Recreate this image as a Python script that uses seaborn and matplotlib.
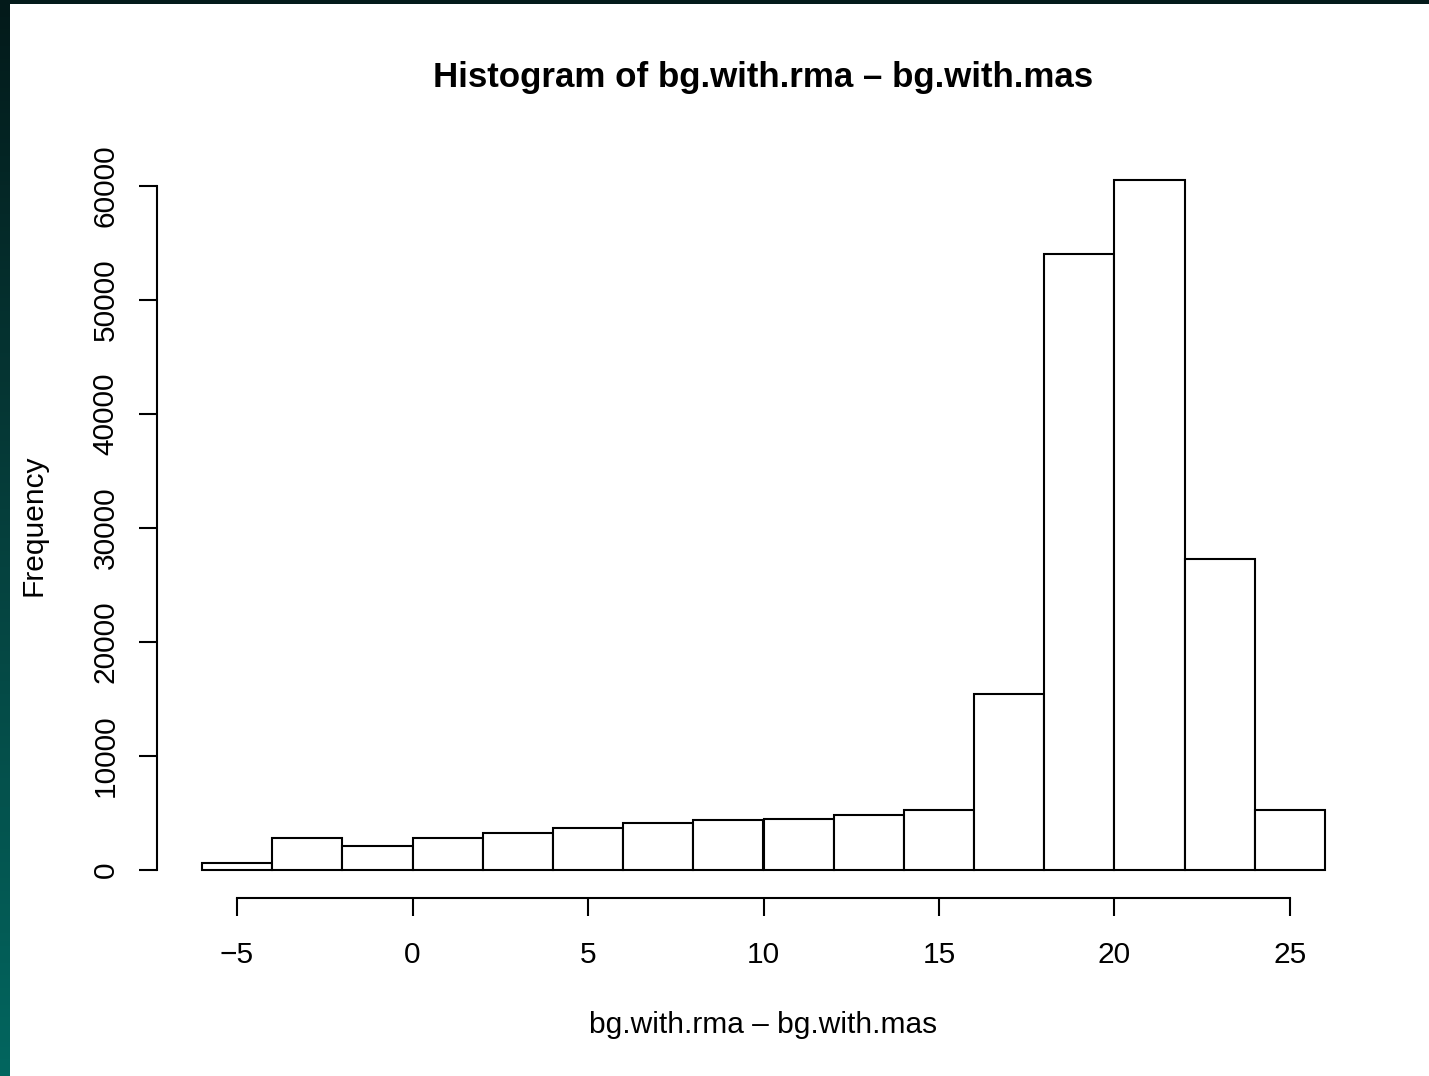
import numpy as np
import matplotlib
matplotlib.use("Agg")
import matplotlib.pyplot as plt
import seaborn as sns
from matplotlib.colors import LinearSegmentedColormap

# Data
bin_edges = [-6, -4, -2, 0, 2, 4, 6, 8, 10, 12, 14, 16, 18, 20, 22, 24, 26]
counts = [600, 2800, 2100, 2780, 3240, 3670, 4140, 4400, 4520, 4870,
          5310, 15460, 54070, 60520, 27320, 5310]
x_ticks = [-5, 0, 5, 10, 15, 20, 25]
y_ticks = [0, 10000, 20000, 30000, 40000, 50000, 60000]

title = "Histogram of bg.with.rma \u2013 bg.with.mas"
x_label = "bg.with.rma \u2013 bg.with.mas"
y_label = "Frequency"

sns.set_style("ticks")
plt.rcParams['font.family'] = ['Liberation Sans', 'DejaVu Sans']
plt.rcParams['text.color'] = "black"

W, H = 1429, 1076
fig = plt.figure(figsize=(W / 100, H / 100), dpi=100)
fig.patch.set_facecolor("white")

# dark frame on the top and left edges
frame = LinearSegmentedColormap.from_list("frame", ["#031a1a", "#06403d", "#02665f"])
left = fig.add_axes([0, 0, 10 / W, 1], zorder=-1)
left.imshow(np.linspace(0, 1, 256).reshape(-1, 1), aspect="auto", cmap=frame)
left.set_axis_off()
top = fig.add_axes([0, 1 - 4 / H, 1, 4 / H], zorder=-1)
top.set_axis_off()
top.add_patch(plt.Rectangle((0, 0), 1, 1, color="#031a1a", transform=top.transAxes))

# plot region in pixels
px_l, px_r, px_t, px_b = 157, 1370, 152.5, 897.7
ax = fig.add_axes([px_l / W, 1 - px_b / H, (px_r - px_l) / W, (px_b - px_t) / H])

centers = [(a + b) / 2 for a, b in zip(bin_edges[:-1], bin_edges[1:])]
sns.histplot(x=centers, weights=counts, bins=bin_edges, ax=ax,
             color="white", edgecolor="black", linewidth=1.5, alpha=1)

xr = bin_edges[-1] - bin_edges[0]
ax.set_xlim(bin_edges[0] - 0.04 * xr, bin_edges[-1] + 0.04 * xr)
ymax = max(counts)
ax.set_ylim(-0.04 * ymax, 1.04 * ymax)
ax.set_xticks(x_ticks)
ax.set_yticks(y_ticks)
ax.set_xticklabels([str(t).replace("-", "\u2212") for t in x_ticks])
ax.set_yticklabels([str(t) for t in y_ticks], rotation=90, va="center")
ax.set_xlabel("")
ax.set_ylabel("")

sns.despine(ax=ax, trim=True)
for s in ["left", "bottom"]:
    ax.spines[s].set_linewidth(1.5)
    ax.spines[s].set_color("black")
ax.tick_params(axis="both", length=13, width=1.5, color="black",
               labelsize=21.5, labelcolor="black", bottom=True, left=True)
ax.tick_params(axis="x", pad=18)
ax.tick_params(axis="y", pad=14)

cx = (px_l + px_r) / 2 / W
fig.text(cx, 1 - 78 / H, title, ha="center", va="center",
         fontsize=25.1, fontweight="bold", color="black")
fig.text(cx, 1 - 1025 / H, x_label, ha="center", va="center",
         fontsize=21.5, color="black")
fig.text(33 / W, 1 - (px_t + px_b) / 2 / H, y_label, ha="center", va="center",
         rotation=90, fontsize=21.5, color="black")

fig.savefig("out.png", dpi=100)
